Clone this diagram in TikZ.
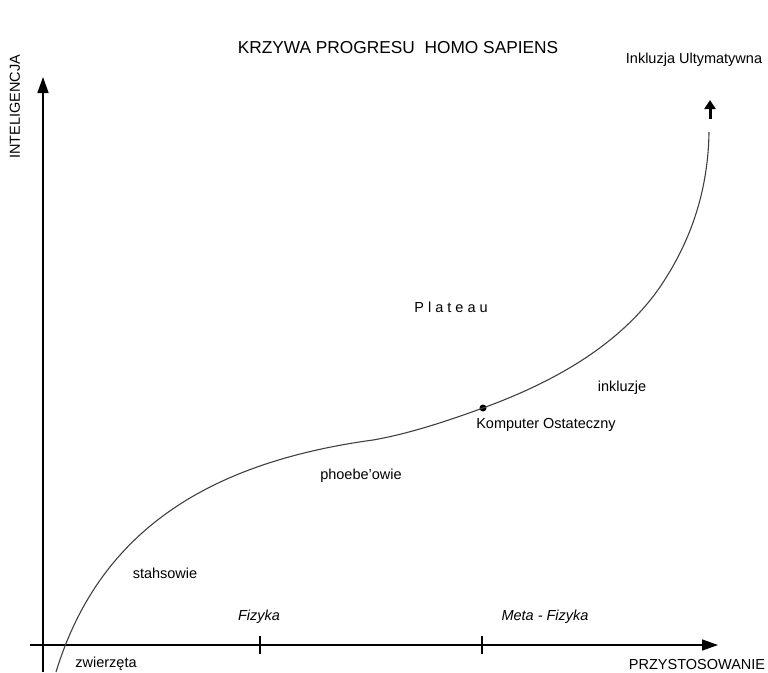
\documentclass[tikz,border=0pt]{standalone}
\usepackage{fontspec}
\setmainfont{Liberation Sans}
\usetikzlibrary{arrows.meta,positioning,calc}

\begin{document}
\begin{tikzpicture}[x=1pt,y=-1pt,>={Triangle[length=16pt,width=11pt]},
  axis/.style={->,line width=1.5pt},
  tick/.style={line width=1.5pt},
  curve/.style={line width=1.1pt,black!75},
  lbl/.style={inner sep=0pt,font=\fontsize{14.5}{17}\selectfont},
  italic lbl/.style={inner sep=0pt,font=\fontsize{14.5}{17}\selectfont\itshape},
  title/.style={inner sep=0pt,font=\fontsize{17.3}{20}\selectfont}]
    \useasboundingbox (0,0) rectangle (768,672);
    % axes
    \coordinate (Ybot) at (43,672);
    \coordinate (Ytop) at (43,77);
    \coordinate (Xleft) at (30,645);
    \coordinate (Xright) at (718,645);
    \draw[axis] (Ybot) -- (Ytop);
    \draw[axis] (Xleft) -- (Xright);
    % ticks
    \coordinate (F1) at (260,636);
    \coordinate (F2) at (260,654);
    \coordinate (M1) at (482,636);
    \coordinate (M2) at (482,654);
    \draw[tick] (F1) -- (F2);
    \draw[tick] (M1) -- (M2);
    % labels
    \node[title] (T) at (398,48) {KRZYWA PROGRESU\ \ HOMO SAPIENS};
    \node[lbl,rotate=90] (Int) at (15,107) {INTELIGENCJA};
    \node[lbl] (Prz) at (697,664) {PRZYSTOSOWANIE};
    \node[lbl] (UI) at (694,60) {Inkluzja Ultymatywna};
    \node[lbl] (Pl) at (451,307) {P l a t e a u};
    \node[lbl] (Ink) at (622,388) {inkluzje};
    \node[lbl] (KOl) at (546,425) {Komputer Ostateczny};
    \node[lbl] (Ph) at (361,476) {phoebe'owie};
    \node[lbl] (St) at (165,573) {stahsowie};
    \node[lbl] (Zw) at (106,664) {zwierzęta};
    \node[italic lbl] (Fiz) at (259,617) {Fizyka};
    \node[italic lbl] (MFiz) at (545,617) {Meta - Fizyka};
    % curve
    \coordinate (C0) at (56,672);
    \coordinate (C1) at (373,440);
    \coordinate (C3) at (660,287);
    \coordinate (C4) at (709,132);
    \node[circle,fill=black,inner sep=0pt,minimum size=7pt] (KO) at (483,408) {};
    \draw[curve] (C0) .. controls (95,545) and (190,465) .. (C1)
          .. controls (410,433.6) and (450,420) .. (KO.center)
          .. controls (540,387) and (615,352) .. (C3)
          .. controls (685,250) and (708,200) .. (C4);
    % arrow at the top
    \coordinate (A1) at (710,119);
    \coordinate (A2) at (710,100);
    \draw[-{Triangle[length=9pt,width=11pt]},line width=3pt] (A1) -- (A2);
\end{tikzpicture}
\end{document}
